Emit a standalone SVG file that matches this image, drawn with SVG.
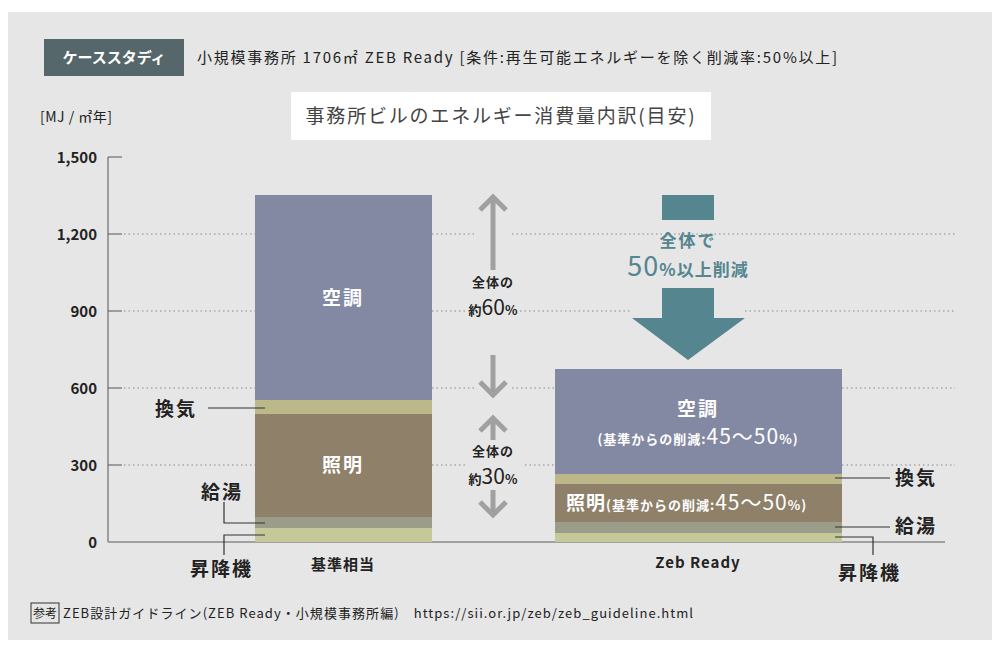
<svg xmlns="http://www.w3.org/2000/svg" width="1000" height="656" viewBox="0 0 1000 656">
<style>
text{font-family:"Noto Sans CJK JP","Noto Sans",sans-serif;fill:#222}
.b{font-weight:bold}
.w{fill:#fff}
.grid{stroke:#888;stroke-width:1;stroke-dasharray:1.5 3}
.ld{stroke:#333;stroke-width:1.2;fill:none}
.ga{stroke:#a0a0a0;stroke-width:5;fill:none}
</style>
<rect width="1000" height="656" fill="#fff"/>
<rect x="8" y="12" width="984" height="628" fill="#e6e6e6"/>
<g id="header">
<rect x="44" y="39" width="140" height="37" fill="#55676a"/>
<text x="114" y="63" class="w b" font-size="15" text-anchor="middle">ケーススタディ</text>
<text x="197" y="63" font-size="15" textLength="640" lengthAdjust="spacing">小規模事務所 1706㎡ ZEB Ready [条件:再生可能エネルギーを除く削減率:50%以上]</text>
<rect x="291" y="92" width="420" height="48" fill="#fff"/>
<text x="501" y="123" font-size="19" text-anchor="middle" style="fill:#444" letter-spacing="1.8">事務所ビルのエネルギー消費量内訳(目安)</text>
</g>
<g id="axis">
<text x="40" y="122" font-size="14" letter-spacing="0.5">[MJ / ㎡年]</text>
<g font-size="15" text-anchor="end" class="b">
<text x="97" y="163">1,500</text><text x="97" y="240">1,200</text><text x="97" y="317">900</text><text x="97" y="394">600</text><text x="97" y="471">300</text><text x="97" y="548">0</text>
</g>
<path d="M108 157H122M108 234H122M108 311H122M108 388H122M108 465H122M108 157V542" stroke="#555" stroke-width="1" fill="none"/>
<path class="grid" d="M124 234H255M432 234H475M512 234H955M124 311H255M432 311H470M520 311H632M745 311H955M124 388H255M432 388H475M512 388H555M842 388H955M124 465H255M432 465H465M525 465H555M842 465H955"/>
<line x1="108" y1="542" x2="945" y2="542" stroke="#888" stroke-width="1.5"/>
</g>
<g id="bar-base">
<rect x="255" y="195" width="177" height="205" fill="#8389a3"/>
<rect x="255" y="400" width="177" height="14" fill="#bdb889"/>
<rect x="255" y="414" width="177" height="103" fill="#8e8069"/>
<rect x="255" y="517" width="177" height="11" fill="#9a9e88"/>
<rect x="255" y="528" width="177" height="14" fill="#c5c99a"/>
<text x="343" y="305" font-size="19" class="w b" text-anchor="middle" letter-spacing="2">空調</text>
<text x="343" y="472" font-size="19" class="w b" text-anchor="middle" letter-spacing="2">照明</text>
<text x="343" y="570" font-size="15" class="b" text-anchor="middle" letter-spacing="1">基準相当</text>
</g>
<g id="bar-zeb">
<rect x="555" y="369" width="287" height="105" fill="#8389a3"/>
<rect x="555" y="474" width="287" height="10" fill="#bdb889"/>
<rect x="555" y="484" width="287" height="38" fill="#8e8069"/>
<rect x="555" y="522" width="287" height="11" fill="#9a9e88"/>
<rect x="555" y="533" width="287" height="9" fill="#c5c99a"/>
<text x="698" y="416" font-size="19" class="w b" text-anchor="middle" letter-spacing="2">空調</text>
<text x="698" y="444" class="w b" text-anchor="middle" font-size="13" letter-spacing="1">(基準からの削減:<tspan font-size="21" font-weight="normal">45〜50</tspan>%)</text>
<text x="566" y="510" class="w b" font-size="13" letter-spacing="1"><tspan font-size="19">照明</tspan>(基準からの削減:<tspan font-size="21" font-weight="normal">45〜50</tspan>%)</text>
<text x="698" y="568" font-size="15" class="b" text-anchor="middle" letter-spacing="1">Zeb Ready</text>
</g>
<g id="labels" class="b" font-size="19" letter-spacing="2">
<text x="155" y="416">換気</text>
<text x="201" y="499">給湯</text>
<text x="190" y="576">昇降機</text>
<text x="895" y="485">換気</text>
<text x="895" y="533">給湯</text>
<text x="838" y="580">昇降機</text>
</g>
<g id="connectors">
<path class="ld" d="M208 408H265"/>
<path class="ld" d="M224 502V523H265"/>
<path class="ld" d="M224 555V535H265"/>
<path class="ld" d="M835 478H890"/>
<path class="ld" d="M835 527H890"/>
<path class="ld" d="M835 537H873V555"/>
<path class="ga" d="M493 270V197M480 210L493 197L506 210"/>
<path class="ga" d="M493 355V395M480 382L493 395L506 382"/>
<path class="ga" d="M493 440V418M480 431L493 418L506 431"/>
<path class="ga" d="M493 490V515M480 502L493 515L506 502"/>
<path d="M662 195H714V220H662Z" fill="#55858f"/>
<path d="M662 288H714V318H745L688 360L632 318H662Z" fill="#55858f"/>
</g>
<g id="mid-text" class="b" text-anchor="middle">
<text x="493" y="287" font-size="13" letter-spacing="1">全体の</text>
<text x="493" y="315" font-size="13">約<tspan font-size="21" font-weight="normal">60</tspan>%</text>
<text x="493" y="456" font-size="13" letter-spacing="1">全体の</text>
<text x="493" y="484" font-size="13">約<tspan font-size="21" font-weight="normal">30</tspan>%</text>
<text x="688" y="247" font-size="17" style="fill:#55858f" letter-spacing="2">全体で</text>
<text x="688" y="276" font-size="17" style="fill:#55858f" letter-spacing="1"><tspan font-size="27" font-weight="normal">50</tspan>%以上削減</text>
</g>
<g id="footer">
<rect x="31" y="603" width="28" height="20" fill="none" stroke="#333"/>
<text x="45" y="618" font-size="12" text-anchor="middle">参考</text>
<text x="63" y="618" font-size="13" textLength="630" lengthAdjust="spacing">ZEB設計ガイドライン(ZEB Ready・小規模事務所編)　https://sii.or.jp/zeb/zeb_guideline.html</text>
</g>
</svg>
